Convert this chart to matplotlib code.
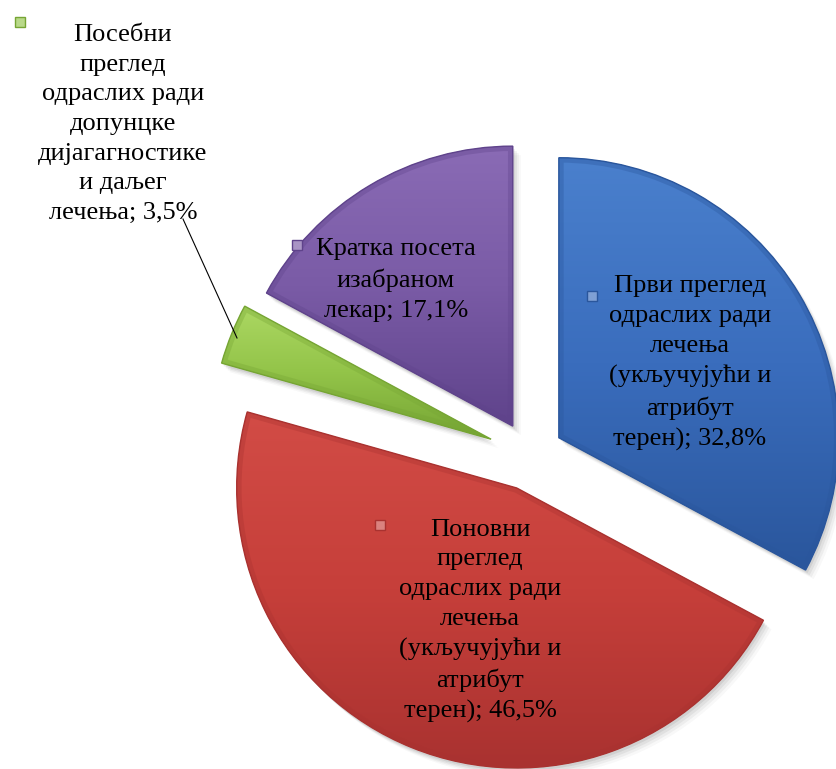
# Exploded pie: structure of visits to the general practitioner (adults)
import numpy as np
import matplotlib.pyplot as plt
from matplotlib.colors import LinearSegmentedColormap, to_rgb
from matplotlib.patches import PathPatch

# Data
names = ['Први преглед\nодраслих ради\nлечења\n(укључујући и\nатрибут\nтерен)',
         'Поновни\nпреглед\nодраслих ради\nлечења\n(укључујући и\nатрибут\nтерен)',
         'Посебни\nпреглед\nодраслих ради\nдопунцке\nдијагагностике\nи даљег\nлечења',
         'Кратка посета\nизабраном\nлекар']
shares = [32.8, 46.5, 3.5, 17.1]

# Styling / layout (pixel positions of the picture, y measured from the top)
base = ['#3a6dbd', '#c63f3a', '#93c449', '#7a5ba6']
light = ['#4a80cd', '#d24c46', '#acd863', '#8a6bb5']
dark = ['#2a569c', '#a93230', '#76a534', '#5f438b']
explode = [0.12, 0.127, 0.15, 0.12]
W, H = 836, 769
CX, CY, R = 530, 455, 280
label_pos = [(690, 363), (480, 621), (123, 124), (396, 280)]
marker_pos = [(592, 296), (380, 525), (20, 22), (297, 245)]
FONT = 'Liberation Serif'


def px(x, y):
    # picture pixels -> axes units (pie of radius 1 at the origin)
    return (x - CX) / R, (CY - y) / R


def tint(c, f):
    return tuple(v + (1 - v) * f for v in to_rgb(c))


fig = plt.figure(figsize=(W / 100, H / 100), dpi=100)
ax = fig.add_axes([0, 0, 1, 1])

# soft drop shadow
for k, a in enumerate([0.10, 0.08, 0.06, 0.04]):
    sh, _ = ax.pie(shares, explode=explode, startangle=90, counterclock=False,
                   radius=1, center=((2 + 2 * k) / R, -(3 + 2 * k) / R))
    for w in sh:
        w.set_facecolor((0.3, 0.3, 0.3, a))
        w.set_edgecolor('none')
        w.set_zorder(1)

wedges, _ = ax.pie(shares, explode=explode, startangle=90, counterclock=False,
                   radius=1, colors=base,
                   wedgeprops=dict(edgecolor='none', zorder=2))

grad = np.linspace(0, 1, 256).reshape(-1, 1)
for w, cl, cb, cd in zip(wedges, light, base, dark):
    path = w.get_path()
    bb = path.get_extents()
    cmap = LinearSegmentedColormap.from_list('s', [cl, cb, cd])
    im = ax.imshow(grad, extent=[bb.x0, bb.x1, bb.y0, bb.y1], origin='upper',
                   cmap=cmap, aspect='auto', zorder=3, interpolation='bilinear')
    im.set_clip_path(w)
    # darker rim inside the edge (bevel look)
    rim = PathPatch(path, fill=False, edgecolor=cd, lw=7, alpha=0.35, zorder=4)
    ax.add_patch(rim)
    rim.set_clip_path(w)
    ax.add_patch(PathPatch(path, fill=False, edgecolor=cd, lw=1.0, zorder=5))

# data labels
for name, v, (lx, ly), (mx, my), cb, cd in zip(names, shares, label_pos,
                                                marker_pos, base, dark):
    txt = name + '; ' + f'{v:.1f}'.replace('.', ',') + '%'
    ax.text(*px(lx, ly), txt, ha='center', va='center', fontsize=19,
            fontfamily=FONT, linespacing=1.45, color='black', zorder=6)
    ax.plot(*px(mx, my), marker='s', ms=6.5, mfc=tint(cb, 0.35), mec=cd,
            mew=1.0, zorder=6)

# leader line for the small slice
ax.plot(*zip(px(183, 219), px(237, 338)), color='black', lw=0.8, zorder=6)

ax.set_xlim(px(0, 0)[0], px(W, 0)[0])
ax.set_ylim(px(0, H)[1], px(0, 0)[1])
ax.set_aspect('auto')
ax.axis('off')

fig.savefig('out.png', dpi=100, facecolor='white')
